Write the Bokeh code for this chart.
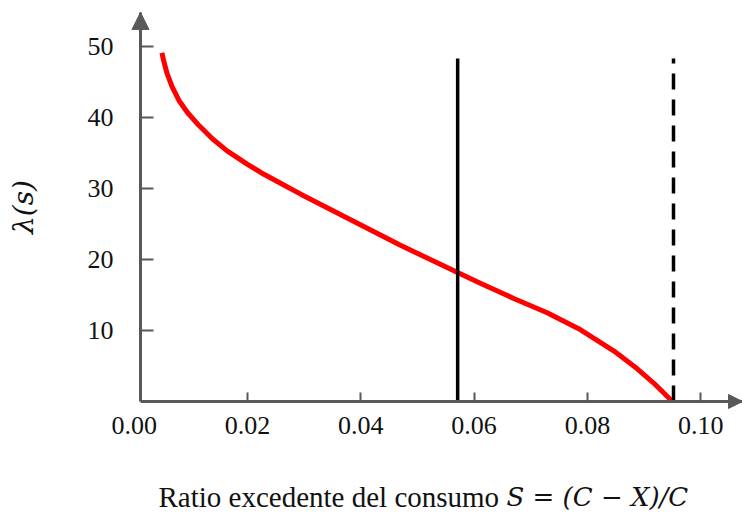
from bokeh.plotting import figure
from bokeh.models import (Arrow, NormalHead, Label, LabelSet, ColumnDataSource,
                          FixedTicker, Range1d)
from bokeh.embed import file_html
from bokeh.resources import INLINE

# ---- data ----
s_vals = [0.0049, 0.0052, 0.0058, 0.0067, 0.0079, 0.0094, 0.0114, 0.0138,
          0.0164, 0.0200, 0.0229, 0.0264, 0.0294, 0.0382, 0.0470, 0.0570,
          0.0611, 0.0647, 0.0670, 0.0729, 0.0788, 0.0847, 0.0888, 0.0917,
          0.0950]
lam_vals = [49.1, 48.0, 46.2, 44.3, 42.4, 40.7, 38.9, 37.0,
            35.3, 33.4, 32.0, 30.5, 29.2, 25.6, 22.0, 18.2,
            16.65, 15.35, 14.5, 12.5, 10.1, 7.1, 4.6, 2.6,
            0.0]
s_solid = 0.0571
s_dashed = 0.0952
vline_top = 48.3
x_ticks = [0.00, 0.02, 0.04, 0.06, 0.08, 0.10]
x_tick_labels = ["0.00", "0.02", "0.04", "0.06", "0.08", "0.10"]
y_ticks = [10, 20, 30, 40, 50]
x_label_text = "Ratio excedente del consumo"
x_label_math = "S = (C \u2212 X)/C"
y_label_text = "\u03bb(s)"

# axis geometry (data units)
X_AXIS_START = 0.00111   # where the vertical axis stands
X_AXIS_END = 0.10738     # arrow tip of horizontal axis
Y_AXIS_END = 54.8        # arrow tip of vertical axis
AX = "#595959"
TXT = "#111111"

p = figure(width=742, height=515, output_backend="svg", toolbar_location=None,
           x_range=Range1d(-0.0236, 0.10738), y_range=Range1d(-16.06, 56.48),
           min_border=0, min_border_left=0, min_border_right=0,
           min_border_top=0, min_border_bottom=0)
p.outline_line_color = None
p.grid.visible = False
p.background_fill_color = "white"
p.border_fill_color = "white"

xa = p.xaxis[0]
xa.fixed_location = 0
xa.bounds = (X_AXIS_START, X_AXIS_END)
xa.ticker = FixedTicker(ticks=x_ticks[1:])
xa.axis_line_color = AX
xa.axis_line_width = 3
xa.major_tick_line_color = AX
xa.major_tick_line_width = 2
xa.major_tick_in = 9
xa.major_tick_out = 0
xa.minor_tick_line_color = None
xa.major_label_text_color = None

ya = p.yaxis[0]
ya.fixed_location = X_AXIS_START
ya.bounds = (0, Y_AXIS_END)
ya.ticker = FixedTicker(ticks=y_ticks)
ya.axis_line_color = AX
ya.axis_line_width = 3
ya.major_tick_line_color = AX
ya.major_tick_line_width = 2
ya.major_tick_in = 13
ya.major_tick_out = 0
ya.minor_tick_line_color = None
ya.major_label_text_font = "Liberation Serif"
ya.major_label_text_font_size = "26px"
ya.major_label_text_color = TXT
ya.major_label_standoff = 27
ya.axis_label = y_label_text
ya.axis_label_text_font = "DejaVu Serif"
ya.axis_label_text_font_style = "italic"
ya.axis_label_text_font_size = "28px"
ya.axis_label_text_color = TXT
ya.axis_label_standoff = 45

# curve and vertical lines
p.line(s_vals, lam_vals, line_color="#FF0000", line_width=5, line_join="round")
p.segment(x0=[s_solid], y0=[0], x1=[s_solid], y1=[vline_top],
          line_color="black", line_width=3.5)
p.segment(x0=[s_dashed], y0=[0], x1=[s_dashed], y1=[vline_top],
          line_color="black", line_width=3.5, line_dash="16 10")

# axis arrows
p.add_layout(Arrow(end=NormalHead(size=17, fill_color=AX, line_color=AX),
                   x_start=X_AXIS_START, y_start=Y_AXIS_END - 3,
                   x_end=X_AXIS_START, y_end=Y_AXIS_END,
                   line_color=AX, line_width=3))
p.add_layout(Arrow(end=NormalHead(size=14, fill_color=AX, line_color=AX),
                   x_start=X_AXIS_END - 0.003, y_start=0,
                   x_end=X_AXIS_END, y_end=0,
                   line_color=AX, line_width=3))

# x tick labels
src = ColumnDataSource(dict(x=x_ticks, y=[0] * len(x_ticks), t=x_tick_labels))
p.add_layout(LabelSet(x="x", y="y", text="t", source=src, y_offset=-16,
                      text_align="center", text_baseline="top",
                      text_font="Liberation Serif", text_font_size="26px",
                      text_color=TXT))

# x axis label (text + math part)
p.add_layout(Label(x=X_AXIS_START, y=0, x_offset=18, y_offset=-96,
                   text=x_label_text, text_font="Liberation Serif",
                   text_font_size="29px", text_align="left",
                   text_baseline="alphabetic", text_color=TXT))
p.add_layout(Label(x=X_AXIS_START, y=0, x_offset=366, y_offset=-96,
                   text=x_label_math, text_font="DejaVu Serif",
                   text_font_style="italic", text_font_size="26px",
                   text_align="left", text_baseline="alphabetic",
                   text_color=TXT))

open("out.html", "w").write(file_html(p, INLINE))
